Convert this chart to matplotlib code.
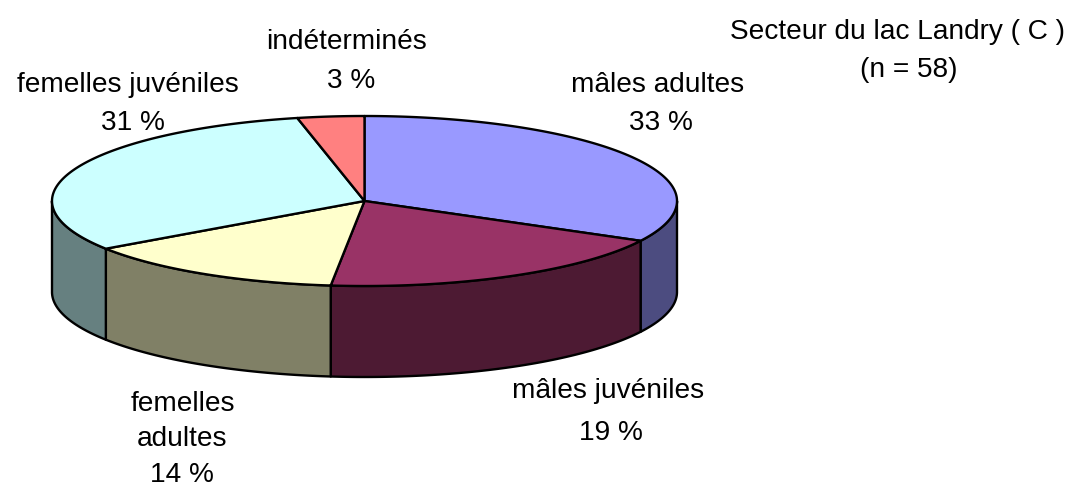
import numpy as np
import matplotlib
matplotlib.use("Agg")
import matplotlib.pyplot as plt
from matplotlib.patches import Polygon

# ---- data ----
categories = ["mâles adultes", "mâles juvéniles", "femelles adultes", "femelles juvéniles", "indéterminés"]
counts = [19, 11, 8, 18, 2]
percent_labels = ["33 %", "19 %", "14 %", "31 %", "3 %"]
top_colors = ["#9999FF", "#993366", "#FFFFCC", "#CCFFFF", "#FF8080"]
side_colors = ["#4C4C80", "#4D1A33", "#808066", "#668080", "#804040"]
title_lines = ["Secteur du lac Landry ( C )", "(n = 58)"]

W, H = 1091, 489
fig = plt.figure(figsize=(W / 100, H / 100), dpi=100)
ax = fig.add_axes([0, 0, 1, 1])
ax.set_xlim(0, W)
ax.set_ylim(H, 0)
ax.axis("off")

cx, cy, a, b, depth = 364.5, 202.0, 312.5, 85.0, 91.0
plt.rcParams["font.family"] = ["Liberation Sans", "DejaVu Sans"]

total = sum(counts)
fracs = np.array(counts) / total
# angles in degrees (math convention), start at 90 going clockwise
starts = 90 - 360 * np.concatenate([[0], np.cumsum(fracs)[:-1]])
ends = 90 - 360 * np.cumsum(fracs)


def pt(theta_deg, dy=0.0):
    t = np.radians(theta_deg)
    return cx + a * np.cos(t), cy - b * np.sin(t) + dy


# sides (front half only)
for s, e, col in zip(starts, ends, side_colors):
    lo, hi = e, s
    for k in range(-2, 3):
        flo, fhi = -180 + 360 * k, 0 + 360 * k
        olo, ohi = max(lo, flo), min(hi, fhi)
        if ohi > olo:
            th = np.linspace(olo, ohi, 100)
            top = [pt(t) for t in th]
            bot = [pt(t, depth) for t in th[::-1]]
            ax.add_patch(Polygon(top + bot, closed=True, facecolor=col,
                                 edgecolor="black", lw=1.7, joinstyle="round", zorder=2))

# tops
for s, e, col in zip(starts, ends, top_colors):
    th = np.linspace(s, e, 200)
    pts = [(cx, cy)] + [pt(t) for t in th]
    ax.add_patch(Polygon(pts, closed=True, facecolor=col, edgecolor="black",
                         lw=1.7, joinstyle="round", zorder=3))

fs = 20.2
label_pos = [
    [(658, 85), (661, 123)],
    [(608, 391), (611, 433)],
    None,
    [(128, 85), (133, 123)],
    [(346, 42), (351, 81)],
]
for i, (cat, pct) in enumerate(zip(categories, percent_labels)):
    if i == 2:
        words = cat.split(" ")
        ax.text(183, 404, words[0], fontsize=fs, ha="center", va="center")
        ax.text(182, 439, words[1], fontsize=fs, ha="center", va="center")
        ax.text(182, 475, pct, fontsize=fs, ha="center", va="center")
    else:
        (x1, y1), (x2, y2) = label_pos[i]
        ax.text(x1, y1, cat, fontsize=fs, ha="center", va="center")
        ax.text(x2, y2, pct, fontsize=fs, ha="center", va="center")

ax.text(897, 32, title_lines[0], fontsize=fs, ha="center", va="center")
ax.text(909, 70, title_lines[1], fontsize=fs, ha="center", va="center")

fig.savefig("out.png", dpi=100, facecolor="white")
